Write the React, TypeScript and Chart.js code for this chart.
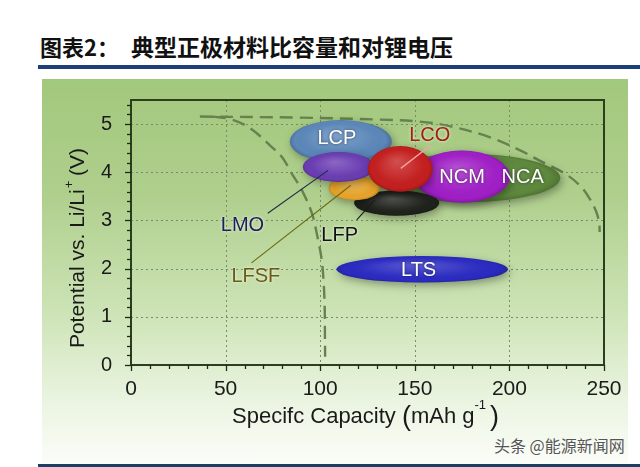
import React, { useEffect, useRef } from "react";
import { Chart, registerables } from "chart.js";

Chart.register(...registerables);

// ---------- data ----------
const xTickValues = [0, 50, 100, 150, 200, 250];
const yTickValues = [0, 1, 2, 3, 4, 5];
const xMinorTickValues = [0, 10, 20, 30, 40, 50, 60, 70, 80, 90, 100, 110, 120, 130, 140, 150, 160, 170, 180, 190, 200, 210, 220, 230, 240, 250];
const yMinorTickValues = [0, 0.2, 0.4, 0.6, 0.8, 1, 1.2, 1.4, 1.6, 1.8, 2, 2.2, 2.4, 2.6, 2.8, 3, 3.2, 3.4, 3.6, 3.8, 4, 4.2, 4.4, 4.6, 4.8, 5, 5.2, 5.4];

// ellipses (drawn back to front)
const materials = ["NCA", "NCM", "LFP", "LFSF", "LCP", "LMO", "LCO", "LTS"];
const capacityCenter = [177.9, 174.8, 140.4, 118.0, 110.9, 109.8, 142.3, 153.9];
const potentialCenter = [3.88, 3.91, 3.36, 3.67, 4.64, 4.11, 4.07, 1.985];
const capacitySpan = [98.0, 50.7, 45.0, 27.0, 53.9, 38.0, 34.3, 90.6];
const potentialSpan = [1.0, 1.08, 0.52, 0.5, 0.89, 0.62, 0.95, 0.55];
const ellipseColors = ["#5e893d", "#a01fc6", "#1f211c", "#e7a42a", "#5b87b9", "#6a3db2", "#c41f1f", "#2b2bc2"];

// labels
const labelText = ["LCP", "LCO", "NCM", "NCA", "LMO", "LFSF", "LFP", "LTS"];
const labelCapacity = [108.8, 157.9, 175.0, 207.0, 58.9, 66.0, 110.3, 152.0];
const labelPotential = [4.71, 4.76, 3.89, 3.89, 2.89, 1.83, 2.68, 1.97];
const labelColors = ["#ffffff", "#a31d12", "#ffffff", "#ffffff", "#1f1f5c", "#6b5a12", "#111111", "#ffffff"];

// leader lines
const leaderFromCapacity = [158.4, 72.3, 63.7, 119.3];
const leaderFromPotential = [4.56, 3.15, 2.12, 3.01];
const leaderToCapacity = [142.6, 104.2, 116.2, 128.8];
const leaderToPotential = [4.08, 4.04, 3.73, 3.42];
const leaderColors = ["#f3a4a0", "#1d2a4a", "#6b6a10", "#1a1a1a"];

// dashed capacity curves
const outerCapacity = [36.4, 89.2, 131.5, 152.6, 168.4, 189.5, 205.4, 217.5, 229.1, 237.1, 242.3, 246.0, 247.5, 247.7];
const outerPotential = [5.156, 5.135, 5.093, 5.052, 4.959, 4.73, 4.46, 4.21, 3.98, 3.73, 3.46, 3.17, 2.93, 2.76];
const innerCapacity = [43.3, 52.3, 60.2, 67.1, 73.4, 79.7, 85.5, 90.3, 95.6, 98.7, 100.8, 101.9, 102.4, 102.5, 102.6];
const innerPotential = [5.156, 5.104, 4.98, 4.79, 4.56, 4.32, 3.94, 3.63, 3.15, 2.63, 2.18, 1.66, 1.14, 0.62, 0.17];

const FONT = "'Liberation Sans', Arial, sans-serif";

const decorPlugin: any = {
  id: "decor",
  beforeDatasetsDraw(chart: any) {
    const { ctx, chartArea: a, scales } = chart;
    const x = scales.x, y = scales.y;
    ctx.save();
    ctx.strokeStyle = "#7a8a6a";
    ctx.lineWidth = 1;
    ctx.setLineDash([2, 3]);
    xTickValues.forEach((v) => {
      const px = Math.round(x.getPixelForValue(v)) + 0.5;
      ctx.beginPath();
      ctx.moveTo(px, a.top);
      ctx.lineTo(px, a.bottom);
      ctx.stroke();
    });
    yTickValues.forEach((v) => {
      const py = Math.round(y.getPixelForValue(v)) + 0.5;
      ctx.beginPath();
      ctx.moveTo(a.left, py);
      ctx.lineTo(a.right, py);
      ctx.stroke();
    });
    ctx.restore();
  },
  afterDatasetsDraw(chart: any) {
    const { ctx, scales } = chart;
    const x = scales.x, y = scales.y;
    // ellipses
    materials.forEach((_m, i) => {
      const cx = x.getPixelForValue(capacityCenter[i]);
      const cy = y.getPixelForValue(potentialCenter[i]);
      const rx = Math.abs(x.getPixelForValue(capacityCenter[i] + capacitySpan[i] / 2) - cx);
      const ry = Math.abs(y.getPixelForValue(potentialCenter[i] + potentialSpan[i] / 2) - cy);
      ctx.save();
      ctx.shadowColor = "rgba(0,0,0,0.35)";
      ctx.shadowBlur = 8;
      ctx.shadowOffsetX = 2;
      ctx.shadowOffsetY = 3;
      ctx.beginPath();
      ctx.ellipse(cx, cy, rx, ry, 0, 0, Math.PI * 2);
      ctx.fillStyle = ellipseColors[i];
      ctx.fill();
      ctx.restore();

      ctx.save();
      ctx.beginPath();
      ctx.ellipse(cx, cy, rx, ry, 0, 0, Math.PI * 2);
      ctx.clip();
      ctx.translate(cx, cy);
      ctx.scale(1, ry / rx);
      const g = ctx.createRadialGradient(-rx * 0.1, -rx * 0.35, 0, 0, 0, rx * 1.05);
      g.addColorStop(0, "rgba(255,255,255,0.22)");
      g.addColorStop(0.55, "rgba(255,255,255,0.05)");
      g.addColorStop(0.85, "rgba(0,0,0,0)");
      g.addColorStop(1, "rgba(0,0,0,0.22)");
      ctx.fillStyle = g;
      ctx.fillRect(-rx * 1.2, -rx * 1.2, rx * 2.4, rx * 2.4);
      ctx.restore();
    });
    // leader lines
    leaderColors.forEach((c, i) => {
      ctx.save();
      ctx.strokeStyle = c;
      ctx.lineWidth = i === 0 ? 1.4 : 1.1;
      ctx.beginPath();
      ctx.moveTo(x.getPixelForValue(leaderFromCapacity[i]), y.getPixelForValue(leaderFromPotential[i]));
      ctx.lineTo(x.getPixelForValue(leaderToCapacity[i]), y.getPixelForValue(leaderToPotential[i]));
      ctx.stroke();
      ctx.restore();
    });
    // labels
    labelText.forEach((t, i) => {
      ctx.save();
      ctx.font = `20px ${FONT}`;
      ctx.textAlign = "center";
      ctx.textBaseline = "middle";
      const white = labelColors[i] === "#ffffff";
      ctx.shadowColor = white ? "rgba(0,0,0,0.55)" : "rgba(255,255,255,0.85)";
      ctx.shadowBlur = 3;
      ctx.fillStyle = labelColors[i];
      ctx.fillText(t, x.getPixelForValue(labelCapacity[i]), y.getPixelForValue(labelPotential[i]));
      ctx.restore();
    });
  },
  afterDraw(chart: any) {
    const { ctx, chartArea: a, scales } = chart;
    const x = scales.x, y = scales.y;
    ctx.save();
    // frame
    ctx.strokeStyle = "#2a3f1e";
    ctx.lineWidth = 2;
    ctx.strokeRect(a.left, a.top, a.right - a.left, a.bottom - a.top);
    // tick marks
    ctx.lineWidth = 1.3;
    ctx.strokeStyle = "#1e2a14";
    xMinorTickValues.forEach((v) => {
      const px = Math.round(x.getPixelForValue(v)) + 0.5;
      const len = xTickValues.includes(v) ? 6 : 4;
      ctx.beginPath();
      ctx.moveTo(px, a.bottom);
      ctx.lineTo(px, a.bottom + len);
      ctx.stroke();
    });
    yMinorTickValues.forEach((v) => {
      const py = Math.round(y.getPixelForValue(v)) + 0.5;
      const len = yTickValues.includes(v) ? 6 : 4;
      ctx.beginPath();
      ctx.moveTo(a.left, py);
      ctx.lineTo(a.left - len, py);
      ctx.stroke();
    });
    ctx.restore();

    // y title
    ctx.save();
    ctx.fillStyle = "#1a1a1a";
    ctx.translate(76, 248);
    ctx.rotate(-Math.PI / 2);
    ctx.textBaseline = "alphabetic";
    ctx.textAlign = "left";
    const big = `21px ${FONT}`;
    const sup = `13px ${FONT}`;
    ctx.font = big;
    const p1 = "Potential vs. Li/Li";
    const p3 = " (V)";
    const w1 = ctx.measureText(p1).width;
    const w3 = ctx.measureText(p3).width;
    ctx.font = sup;
    const w2 = ctx.measureText("+").width;
    const total = w1 + w2 + w3;
    const cx0 = -total / 2;
    ctx.font = big;
    ctx.fillText(p1, cx0, 7.5);
    ctx.font = sup;
    ctx.fillText("+", cx0 + w1 + 1, -3);
    ctx.font = big;
    ctx.fillText(p3, cx0 + w1 + w2, 7.5);
    ctx.restore();

    // x title
    ctx.save();
    ctx.fillStyle = "#1a1a1a";
    ctx.textBaseline = "alphabetic";
    ctx.textAlign = "left";
    let xx = 232;
    const base = 423;
    const parts: any[] = [
      ["Specifc Capacity ", `22px ${FONT}`, 0],
      ["(", `27px ${FONT}`, 2],
      ["mAh g", `22px ${FONT}`, 0],
      ["-1", `13px ${FONT}`, -14],
      [")", `27px ${FONT}`, 2],
    ];
    parts.forEach(([t, f, dy]) => {
      ctx.font = f;
      ctx.fillText(t, xx, base + dy);
      xx += ctx.measureText(t).width + (t === "-1" ? 4 : 0);
    });
    ctx.restore();
  },
};

export default function App() {
  const ref = useRef<HTMLCanvasElement | null>(null);

  useEffect(() => {
    if (!ref.current) return;
    const curveStyle = {
      showLine: true,
      pointRadius: 0,
      borderColor: "#65824f",
      borderWidth: 2.4,
      borderDash: [13, 7],
      tension: 0.35,
      fill: false,
    };
    const chart = new Chart(ref.current, {
      type: "scatter",
      data: {
        datasets: [
          { ...curveStyle, label: "outer", data: outerCapacity.map((v, i) => ({ x: v, y: outerPotential[i] })) },
          { ...curveStyle, label: "inner", data: innerCapacity.map((v, i) => ({ x: v, y: innerPotential[i] })) },
        ],
      },
      options: {
        responsive: false,
        animation: false,
        events: [],
        layout: { padding: { left: 0, top: 100, right: 36, bottom: 42 } },
        plugins: { legend: { display: false }, tooltip: { enabled: false } },
        scales: {
          x: {
            type: "linear",
            min: 0,
            max: 250,
            grid: { display: false },
            border: { display: false },
            afterBuildTicks: (s: any) => {
              s.ticks = xTickValues.map((v) => ({ value: v }));
            },
            afterFit: (s: any) => {
              s.height = 60;
            },
            ticks: { padding: 4, autoSkip: false, maxRotation: 0, color: "#1a1a1a", font: { family: FONT, size: 21 } },
          },
          y: {
            type: "linear",
            min: 0,
            max: 5.5,
            grid: { display: false },
            border: { display: false },
            afterBuildTicks: (s: any) => {
              s.ticks = yTickValues.map((v) => ({ value: v }));
            },
            afterFit: (s: any) => {
              s.width = 131;
            },
            ticks: { padding: 11, autoSkip: false, color: "#1a1a1a", font: { family: FONT, size: 20 } },
          },
        },
      } as any,
      plugins: [decorPlugin],
    });
    return () => chart.destroy();
  }, []);

  return (
    <div style={{ position: "absolute", left: 0, top: 0, width: 640, height: 467, background: "#ffffff", overflow: "hidden" }}>
      <div
        style={{
          position: "absolute",
          left: 40,
          top: 35,
          fontFamily: "'Noto Sans CJK SC', sans-serif",
          fontWeight: 700,
          fontSize: 22,
          lineHeight: "23px",
          color: "#111",
          whiteSpace: "nowrap",
        }}
      >
        图表2：
      </div>
      <div
        style={{
          position: "absolute",
          left: 131,
          top: 35,
          fontFamily: "'Noto Sans CJK SC', sans-serif",
          fontWeight: 700,
          fontSize: 23,
          lineHeight: "23px",
          color: "#111",
          whiteSpace: "nowrap",
        }}
      >
        典型正极材料比容量和对锂电压
      </div>
      <div style={{ position: "absolute", left: 38, top: 65, width: 602, height: 4, background: "#1c3f7c" }} />
      <div
        style={{
          position: "absolute",
          left: 42,
          top: 79,
          width: 586,
          height: 385,
          background:
            "linear-gradient(to bottom, #a2c87c 0%, #afcf8d 30%, #cce3b5 60%, #ecf5e3 85%, #fbfdf8 100%)",
        }}
      />
      <div style={{ position: "absolute", left: 38, top: 464, width: 602, height: 3, background: "#1c3f66" }} />
      <div
        style={{
          position: "absolute",
          left: 494,
          top: 436,
          fontFamily: "'Noto Sans CJK SC', sans-serif",
          fontSize: 16,
          lineHeight: "18px",
          color: "#555",
          textShadow: "0 0 2px #fff",
          whiteSpace: "nowrap",
        }}
      >
        头条 @能源新闻网
      </div>
      <canvas ref={ref} width={640} height={467} style={{ position: "absolute", left: 0, top: 0, width: 640, height: 467 }} />
    </div>
  );
}
